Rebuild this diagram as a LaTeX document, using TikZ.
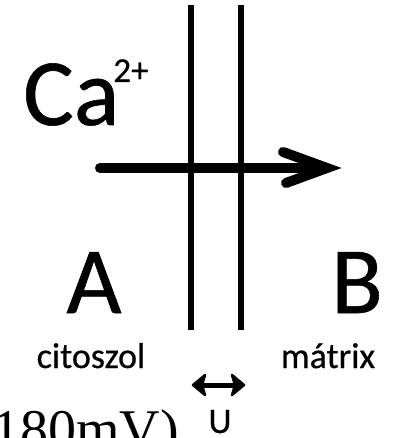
\documentclass[tikz,border=0pt]{standalone}
\usepackage{fontspec}
\setmainfont{Carlito}
\newfontfamily\labfont[FakeBold=0.6]{Carlito}
\newfontfamily\serifx{Liberation Serif}
\tikzset{
  bigtext/.style={font=\labfont\fontsize{95}{95}\selectfont, inner sep=0pt, anchor=base},
  labtext/.style={font=\labfont\fontsize{36}{36}\selectfont, inner sep=0pt, anchor=base},
  membrane/.style={line width=5.5pt},
  flux/.style={line width=10pt, line cap=round, line join=miter},
  gapshaft/.style={line width=5pt},
  gaphead/.style={fill=black, draw=black, line width=2.5pt, line join=round}
}
\begin{document}
\begin{tikzpicture}[x=1pt,y=-1pt]
\useasboundingbox (0,0) rectangle (395,438);
% membrane
\coordinate (m1t) at (191,5);  \coordinate (m1b) at (191,330);
\coordinate (m2t) at (241,5);  \coordinate (m2b) at (241,330);
\draw[membrane] (m1t) -- (m1b);
\draw[membrane] (m2t) -- (m2b);
% ion flux arrow
\coordinate (fs) at (100,168);
\coordinate (fe) at (322,168);
\coordinate (tip) at (327,168);
\coordinate (au) at (283,152);
\coordinate (al) at (286,183);
\draw[flux] (fs) -- (fe);
\draw[flux] (au) -- (tip) -- (al);
% labels
\node[bigtext, anchor=base west] (ca) at (23,125) {Ca\kern-6pt\raisebox{43pt}{\fontsize{35}{35}\selectfont 2+}};
\node[bigtext] (A) at (94,313) {A};
\node[bigtext] (B) at (357,313) {B};
\node[labtext] (cit) at (91,368) {citoszol};
\node[labtext] (mat) at (328,368) {mátrix};
% thickness
\coordinate (ul) at (193,385);
\coordinate (ur) at (244,385);
\coordinate (ulu) at (205,375);
\coordinate (uld) at (205,395);
\coordinate (uli) at (202,385);
\coordinate (uru) at (232,375);
\coordinate (urd) at (232,395);
\coordinate (uri) at (235,385);
\draw[gapshaft] (uli) -- (uri);
\filldraw[gaphead] (ul) -- (ulu) -- (uli) -- (uld) -- cycle;
\filldraw[gaphead] (ur) -- (uru) -- (uri) -- (urd) -- cycle;
\node[labtext] (U) at (220,433) {U};
\node[font=\serifx\fontsize{56}{56}\selectfont, inner sep=0pt, anchor=base west] (mv) at (-8,448) {180mV)};
\end{tikzpicture}
\end{document}
